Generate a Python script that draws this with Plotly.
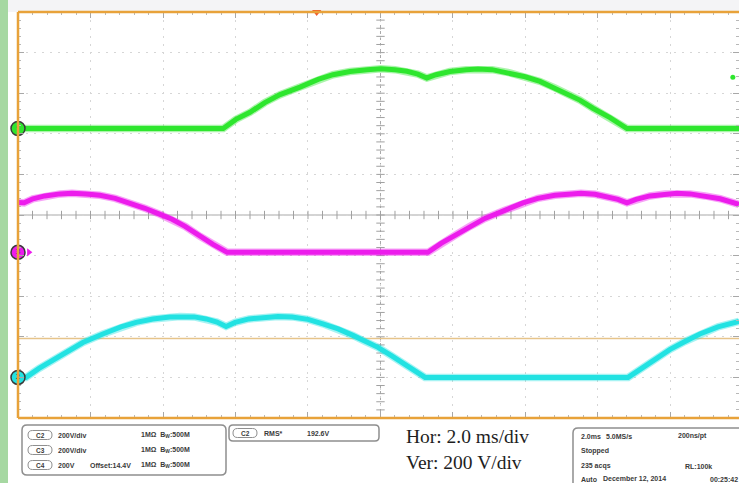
import numpy as np
import plotly.graph_objects as go

W, H = 739, 483

# ---- scope settings ----
MS_PER_DIV = 2.0
V_PER_DIV = 200.0
X_RANGE_MS = [0.0, 19.89]
Y_RANGE_DIV = [-5.0, 5.0]

# ---- channel data (time in ms, voltage in V) ----
green_t = [0.00, 5.66, 6.01, 6.40, 6.81, 7.23, 7.78, 8.28, 8.69, 9.16, 9.63, 10.01,
           10.40, 10.73, 11.03, 11.28, 11.53, 11.92, 12.36, 12.69, 13.08, 13.57,
           13.99, 14.40, 14.81, 15.14, 15.50, 15.86, 16.33, 16.80, 19.89]
green_v = [0, 0, 45, 80, 128, 167, 204, 242, 265, 281, 290, 294,
           290, 282, 268, 249, 265, 281, 290, 293, 290, 274,
           255, 232, 200, 172, 140, 100, 54, 0, 0]

magenta_t = [0.00, 0.17, 0.41, 0.74, 1.16, 1.49, 1.88, 2.26, 2.68, 3.09, 3.50, 3.92,
             4.25, 4.61, 5.02, 5.38, 5.77, 11.31, 11.67, 12.06, 12.47, 12.88, 13.43,
             13.93, 14.34, 14.81, 15.28, 15.53, 15.92, 16.25, 16.55, 16.80, 17.05,
             17.43, 17.85, 18.18, 18.54, 18.95, 19.37, 19.89]
magenta_v = [246, 244, 264, 278, 288, 291, 288, 281, 266, 244, 217, 187,
             163, 128, 79, 39, 0, 0, 44, 84, 128, 167, 207,
             244, 266, 281, 288, 291, 286, 276, 261, 244, 261,
             278, 288, 291, 288, 278, 264, 236]

cyan_t = [0.00, 0.22, 0.58, 0.97, 1.38, 1.79, 2.34, 2.84, 3.26, 3.72, 4.19, 4.47,
          4.86, 5.19, 5.49, 5.74, 5.99, 6.37, 6.81, 7.17, 7.56, 8.00, 8.41, 8.83,
          9.24, 9.57, 9.93, 10.29, 10.76, 11.23, 16.83, 17.19, 17.57, 17.99,
          18.40, 18.81, 19.31, 19.89]
cyan_v = [0, 0, 44, 86, 133, 172, 214, 249, 271, 288, 298, 300,
          298, 288, 273, 251, 271, 288, 298, 300, 298, 286, 264, 239,
          207, 177, 148, 108, 54, 0, 0, 44, 89, 138,
          177, 214, 249, 276]

# channel vertical positions (divisions)
channels = [
    ("green", green_t, green_v, 2.13, "#2ee62e"),
    ("magenta", magenta_t, magenta_v, -0.92, "#ec1cec"),
    ("cyan", cyan_t, cyan_v, -4.00, "#22e2e2"),
]

TRIG_LEVEL_DIV = -3.04
TRIG_POS_MS = 8.24

# ---- layout helpers (pixel -> paper) ----
def fx(x):
    return x / W

def fy(y):
    return 1 - y / H

def rrect(x0, y0, x1, y1, r):
    pts = [
        ("M", [(x0 + r, y0)]), ("L", [(x1 - r, y0)]), ("Q", [(x1, y0), (x1, y0 + r)]),
        ("L", [(x1, y1 - r)]), ("Q", [(x1, y1), (x1 - r, y1)]), ("L", [(x0 + r, y1)]),
        ("Q", [(x0, y1), (x0, y1 - r)]), ("L", [(x0, y0 + r)]), ("Q", [(x0, y0), (x0 + r, y0)]),
    ]
    s = ""
    for cmd, ps in pts:
        s += cmd + " " + " ".join(f"{fx(a):.5f},{fy(b):.5f}" for a, b in ps) + " "
    return s + "Z"

fig = go.Figure()

# centre-line tick marks
xt = np.arange(0, 20.0, 0.4)
fig.add_trace(go.Scatter(x=xt, y=np.zeros_like(xt), mode="markers",
                         marker=dict(symbol="line-ns", size=6, line=dict(width=1, color="#a0a0a0")),
                         hoverinfo="skip", showlegend=False))
yt = np.arange(-5, 5.01, 0.2)
fig.add_trace(go.Scatter(x=np.full_like(yt, 10.0), y=yt, mode="markers",
                         marker=dict(symbol="line-ew", size=6, line=dict(width=1, color="#a0a0a0")),
                         hoverinfo="skip", showlegend=False))

# waveforms
for name, t, v, off, col in channels:
    y = off + np.array(v, dtype=float) / V_PER_DIV
    fig.add_trace(go.Scatter(x=t, y=y, mode="lines", line=dict(color=col, width=7.5),
                             opacity=0.4, hoverinfo="skip", showlegend=False))
    fig.add_trace(go.Scatter(x=t, y=y, mode="lines", line=dict(color=col, width=5),
                             hoverinfo="skip", showlegend=False))

# channel ground markers on the left edge
labels = ["1", "3", "2"]
for (name, t, v, off, col), lab in zip(channels, labels):
    fig.add_trace(go.Scatter(x=[0], y=[off], mode="markers+text", text=[lab],
                             textfont=dict(size=8, color="#333"),
                             marker=dict(symbol="circle", size=14, color=col,
                                         line=dict(color="#3a3a3a", width=1.5)),
                             cliponaxis=False, hoverinfo="skip", showlegend=False))
# magenta pointer
fig.add_trace(go.Scatter(x=[0.3], y=[channels[1][3]], mode="markers",
                         marker=dict(symbol="triangle-right", size=7, color=channels[1][4]),
                         cliponaxis=False, hoverinfo="skip", showlegend=False))
# small green dot at right edge
fig.add_trace(go.Scatter(x=[19.72], y=[3.39], mode="markers",
                         marker=dict(symbol="circle", size=5, color=channels[0][4]),
                         hoverinfo="skip", showlegend=False))
# trigger position marker
fig.add_trace(go.Scatter(x=[TRIG_POS_MS], y=[Y_RANGE_DIV[1]], mode="markers",
                         marker=dict(symbol="triangle-down", size=8, color="#f05a2a"),
                         cliponaxis=False, hoverinfo="skip", showlegend=False))

shapes = []
# background pieces
shapes.append(dict(type="rect", xref="paper", yref="paper", x0=0, x1=1, y0=fy(12), y1=1,
                   fillcolor="#f4f4f6", line=dict(width=0), layer="below"))
shapes.append(dict(type="rect", xref="paper", yref="paper", x0=0, x1=fx(8), y0=0, y1=1,
                   fillcolor="#a6d8a2", line=dict(width=0), layer="above"))
# centre lines
shapes.append(dict(type="line", xref="x", yref="y", x0=X_RANGE_MS[0], x1=X_RANGE_MS[1], y0=0, y1=0,
                   line=dict(color="#a8a8a8", width=1), layer="below"))
shapes.append(dict(type="line", xref="x", yref="y", x0=10, x1=10, y0=-5, y1=5,
                   line=dict(color="#a8a8a8", width=1, dash="dot"), layer="below"))
# trigger level line
shapes.append(dict(type="line", xref="x", yref="y", x0=X_RANGE_MS[0], x1=X_RANGE_MS[1],
                   y0=TRIG_LEVEL_DIV, y1=TRIG_LEVEL_DIV,
                   line=dict(color="#e6c48a", width=1.5), layer="below"))
# orange frame (top, left, bottom)
frame_col = "#e8a23a"
shapes.append(dict(type="line", xref="x domain", yref="y domain", x0=0, x1=1, y0=1, y1=1,
                   line=dict(color=frame_col, width=2.5)))
shapes.append(dict(type="line", xref="x domain", yref="y domain", x0=0, x1=1, y0=0, y1=0,
                   line=dict(color=frame_col, width=2.5)))
shapes.append(dict(type="line", xref="x domain", yref="y domain", x0=0, x1=0, y0=0, y1=1,
                   line=dict(color=frame_col, width=2.5)))

# info boxes
box_line = dict(color="#8e8e8e", width=1.5)
shapes.append(dict(type="path", xref="paper", yref="paper", path=rrect(22, 425, 226, 475, 5),
                   fillcolor="white", line=box_line))
shapes.append(dict(type="path", xref="paper", yref="paper", path=rrect(229, 425, 379, 441, 4),
                   fillcolor="white", line=box_line))
shapes.append(dict(type="path", xref="paper", yref="paper", path=rrect(573, 428, 760, 500, 5),
                   fillcolor="white", line=box_line))

annotations = []
def txt(x, y, s, size=7, family="Liberation Sans", color="#3a3a3a", bold=True, anchor="left"):
    annotations.append(dict(xref="paper", yref="paper", x=fx(x), y=fy(y), text=(f"<b>{s}</b>" if bold else s),
                            showarrow=False, xanchor=anchor, yanchor="middle",
                            font=dict(size=size, family=family, color=color)))

def pill(x0, yc, lab):
    shapes.append(dict(type="path", xref="paper", yref="paper",
                       path=rrect(x0, yc - 4.5, x0 + 24, yc + 4.5, 4.5),
                       fillcolor="white", line=dict(color="#8e8e8e", width=1)))
    txt(x0 + 12, yc, lab, size=6.5, anchor="center")

rows = [(435, "C2", "200V/div", ""), (450, "C3", "200V/div", ""), (465, "C4", "200V", "Offset:14.4V")]
for yc, ch, scale, extra in rows:
    pill(28, yc, ch)
    txt(56, yc, scale)
    if extra:
        txt(88, yc, extra)
    txt(139, yc, "1MΩ  B<sub>W</sub>:500M")

pill(233, 433, "C2")
txt(262, 433, "RMS*")
txt(305, 433, "192.6V")

txt(404, 436, "Hor: 2.0 ms/div", size=19.5, family="Liberation Serif", color="#1e1e1e", bold=False)
txt(404, 462, "Ver: 200 V/div", size=19.5, family="Liberation Serif", color="#1e1e1e", bold=False)

txt(579, 436, "2.0ms")
txt(604, 436, "5.0MS/s")
txt(676, 436, "200ns/pt")
txt(579, 451, "Stopped")
txt(579, 466, "235 acqs")
txt(683, 466, "RL:100k")
txt(579, 479, "Auto")
txt(601, 479, "December 12, 2014")
txt(708, 479, "00:25:42")

fig.update_layout(
    width=W, height=H,
    margin=dict(l=0, r=0, t=0, b=0),
    paper_bgcolor="white", plot_bgcolor="white",
    shapes=shapes, annotations=annotations,
    showlegend=False,
    xaxis=dict(domain=[fx(18), 1], range=X_RANGE_MS, showticklabels=False, zeroline=False,
               showgrid=True, gridcolor="#d6d6d6", griddash="2px,6px", gridwidth=1,
               tick0=0, dtick=MS_PER_DIV, ticks="inside", ticklen=6, tickcolor="#a8a8a8",
               mirror="ticks", showline=False,
               minor=dict(ticks="inside", dtick=0.4, ticklen=3, tickcolor="#b8b8b8", showgrid=False)),
    yaxis=dict(domain=[fy(418), fy(12)], range=Y_RANGE_DIV, showticklabels=False, zeroline=False,
               showgrid=True, gridcolor="#d6d6d6", griddash="2px,6px", gridwidth=1,
               tick0=0, dtick=1, ticks="inside", ticklen=6, tickcolor="#a8a8a8",
               mirror="ticks", showline=False,
               minor=dict(ticks="inside", dtick=0.2, ticklen=3, tickcolor="#b8b8b8", showgrid=False)),
)

fig.write_html("out.html")
